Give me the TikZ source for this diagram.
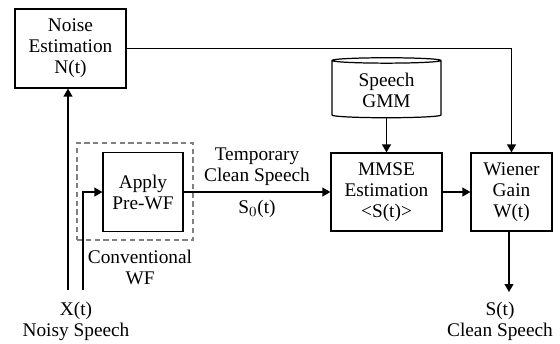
\documentclass[tikz,border=0pt]{standalone}
\usepackage{fontspec}
\setmainfont{Liberation Serif}
\usetikzlibrary{arrows.meta, shapes.geometric}

\begin{document}
\begin{tikzpicture}[x=0.02cm, y=-0.02cm,
  every node/.style={font=\fontsize{11}{12}\selectfont, align=center},
  block/.style={draw, line width=0.7pt, inner sep=1pt},
  arr/.style={line width=0.7pt, -{Triangle[length=4.5pt,width=5pt]}}]
\useasboundingbox (0,0) rectangle (560,343);
% Draw the noise estimation block
\node [block, minimum width=2.22cm, minimum height=1.58cm] (noise) at (70.5,48.5) {Noise\\Estimation\\N(t)};
% Draw the speech model as a cylinder
\node [draw, line width=0.7pt, cylinder, shape border rotate=90, aspect=0.08,
  minimum width=2.18cm, minimum height=1.2cm] (gmm) at (386.5,90) {Speech\\GMM};
% Draw the MMSE and Wiener blocks
\node [block, minimum width=2.22cm, minimum height=1.56cm] (mmse) at (386.5,192) {MMSE\\Estimation\\<S(t)>};
\node [block, minimum width=1.62cm, minimum height=1.56cm] (wiener) at (511.5,192) {Wiener\\Gain\\W(t)};
% Conventional WF: dashed frame with the pre-WF block inside
\node [draw, gray, dashed, line width=0.9pt, dash pattern=on 3pt off 2pt,
  minimum width=2.32cm, minimum height=1.94cm] (conv) at (135,191.5) {};
\node [block, minimum width=1.6cm, minimum height=1.58cm] (prewf) at (143,192) {Apply\\Pre-WF};
\node (convlbl) at (140,267) {Conventional\\WF};
% Input and output labels
\coordinate (xin) at (68,290);
\coordinate (xin2) at (83,290);
\coordinate (sout) at (509,292);
\node (xlbl) at (76,321) {X(t)\\Noisy Speech};
\node (slbl) at (500,321) {S(t)\\Clean Speech};
% Connectors
\draw [arr] (xin) -- (xin |- noise.south);
\draw [arr] (xin2) |- (prewf.west);
\draw [arr] (prewf.east) -- node [above] {Temporary\\Clean Speech} node [below, yshift=-1pt] {S$_0$(t)} (mmse.west);
\draw [arr] (gmm.bottom) -- (mmse.north);
\draw [arr] (mmse.east) -- (wiener.west);
\draw [arr] (noise.east) -| (wiener.north);
\draw [arr] (wiener.south -| sout) -- (sout);
\end{tikzpicture}
\end{document}
